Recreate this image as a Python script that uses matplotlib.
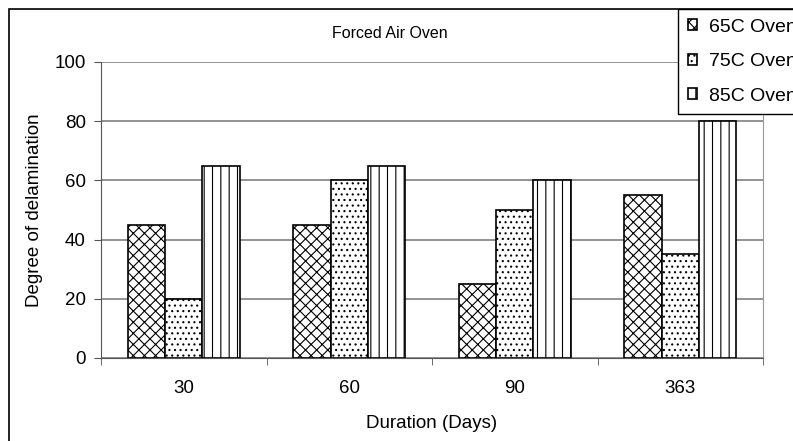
import numpy as np
import matplotlib.pyplot as plt
from matplotlib.patches import Rectangle

plt.rcParams['font.family'] = ['Liberation Sans', 'DejaVu Sans']
plt.rcParams['hatch.color'] = '#333333'
plt.rcParams['hatch.linewidth'] = 0.8

categories = ['30', '60', '90', '363']
series = ['65C Oven', '75C Oven', '85C Oven']
oven65 = [45, 45, 25, 55]
oven75 = [20, 60, 50, 35]
oven85 = [65, 65, 60, 80]
hatches = ['xxx', '...', '||']

W, H = 793, 441
fig = plt.figure(figsize=(W / 100, H / 100), dpi=100)
ax = fig.add_axes([101 / W, 1 - 358 / H, (763 - 101) / W, (358 - 62) / H])

x = np.arange(len(categories))
bw = 0.225
for i, (vals, h) in enumerate(zip([oven65, oven75, oven85], hatches)):
    ax.bar(x + (i - 1) * bw, vals, bw, color='white', edgecolor='black',
           hatch=h, linewidth=1.2, label=series[i], zorder=3)

ax.set_xlim(-0.5, len(categories) - 0.5)
ax.set_ylim(0, 100)
ax.set_yticks(range(0, 101, 20))
ax.yaxis.grid(True, color='#808080', linewidth=1.2, zorder=0)
ax.set_xticks(x)
ax.set_xticklabels(categories, fontsize=13.5)
ax.set_xticks(np.arange(-0.5, len(categories)), minor=True)
ax.tick_params(axis='x', which='major', length=0, pad=16)
ax.tick_params(axis='x', which='minor', length=5, color='#555555')
ax.tick_params(axis='y', length=5, color='#555555', labelsize=13.5, pad=6)

ax.spines['top'].set_visible(False)
ax.spines['left'].set_color('#555555')
ax.spines['right'].set_color('#999999')
ax.spines['bottom'].set_color('#555555')

ax.set_xlabel('Duration (Days)', fontsize=13.5, labelpad=13)
ax.set_ylabel('Degree of delamination', fontsize=13.5, labelpad=8)
fig.text(390 / W, 1 - 33 / H, 'Forced Air Oven', ha='center', va='center', fontsize=11.5)

# legend runs past the right edge, as in the source chart
fig.legend(loc='upper left', bbox_to_anchor=(678 / W, 1 - 9 / H), fontsize=14,
           frameon=True, fancybox=False, edgecolor='black', framealpha=1,
           handlelength=0.5, handleheight=0.5, handletextpad=0.6,
           labelspacing=0.9, borderpad=0.5, borderaxespad=0)

fig.patches.append(Rectangle((9 / W, -0.1), 1.0, 1.1 - 9 / H, transform=fig.transFigure,
                             fill=False, edgecolor='black', linewidth=1.2))

fig.savefig('out.png', dpi=100)
